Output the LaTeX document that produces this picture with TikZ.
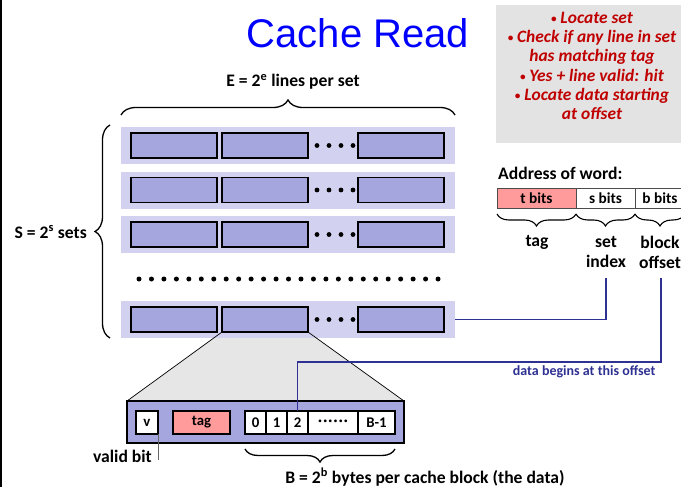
\documentclass[tikz,border=0pt]{standalone}
\usepackage{fontspec}
\setmainfont{Carlito}
\newfontfamily\titlefont{Liberation Sans}
\usetikzlibrary{decorations.pathreplacing,calc}

\definecolor{rowbg}{HTML}{D2D2F0}
\definecolor{linefill}{HTML}{A6A6DF}
\definecolor{tagpink}{HTML}{FF9B9B}
\definecolor{notegray}{HTML}{E3E3E3}
\definecolor{zoomgray}{HTML}{E6E6E6}
\definecolor{navy}{HTML}{2E3192}
\definecolor{notered}{HTML}{C00000}
\definecolor{titleblue}{HTML}{0000FF}

% small bullet for the note list
\newcommand\notebul{\raisebox{1.2pt}{\fontsize{11}{11}\selectfont•}}

\begin{document}
\begin{tikzpicture}[x=1pt,y=-1pt,
  setrow/.style={fill=rowbg, draw=none, minimum width=334pt, minimum height=37pt,
    anchor=north west, inner sep=0pt, outer sep=0pt},
  linebox/.style={fill=linefill, draw=black, line width=1.6pt, minimum width=86pt,
    minimum height=25pt, anchor=north west, inner sep=0pt, outer sep=0pt},
  cell/.style={draw=black, line width=1.3pt, fill=white, minimum height=23pt,
    anchor=north west, inner sep=0pt, outer sep=0pt, font=\bfseries\fontsize{14.8}{16}\selectfont},
  addr/.style={draw=black!70, line width=0.8pt, minimum height=20pt, anchor=north west,
    inner sep=0pt, outer sep=0pt, font=\bfseries\fontsize{15.3}{17}\selectfont},
  lbl/.style={font=\bfseries\fontsize{17.6}{20}\selectfont, inner sep=1pt},
  bracestyle/.style={decorate, decoration={brace, amplitude=#1}, line width=1.3pt},
  bracestyle/.default=13pt,
  conn/.style={draw=navy, line width=1.5pt},
  dot/.style={fill=black}
]
\useasboundingbox (0,0) rectangle (681,487);

% left margin rule
\draw[line width=1.6pt] (0.8,0) -- (0.8,487);

% title
\node[font=\titlefont\fontsize{40}{42}\selectfont, text=titleblue] (title) at (358,33) {Cache Read};

% note box
\node[fill=notegray, minimum width=190pt, minimum height=138pt, anchor=north west,
  inner sep=0pt] (notebox) at (496,5) {};
\node[align=center, text=notered, font=\bfseries\itshape\fontsize{17.4}{19.3}\selectfont]
  (notes) at (592,66) {\notebul\ Locate set\\\notebul\ Check if any line in set\\has matching tag\\
  \notebul\ Yes + line valid: hit\\\notebul\ Locate data starting\\at offset};

% zoom-out wedge behind the rows
\coordinate (wtl) at (222,332);
\coordinate (wtr) at (308,332);
\fill[zoomgray] (wtl) -- (wtr) -- (404,401) -- (127,401) -- cycle;

% sets of lines
\foreach \r/\t in {1/127,2/171.5,3/216,4/301}{
  \node[setrow] (row\r) at (121,\t) {};
  \node[linebox] (a\r) at (131,\t+6) {};
  \node[linebox] (b\r) at (222,\t+6) {};
  \node[linebox] (c\r) at (358,\t+6) {};
  \foreach \k in {0,...,3}
    \fill[dot] ({317+12*\k},{\t+18.5}) circle (2.4pt);
}
% more sets
\foreach \k in {0,...,24}
  \fill[dot] ({139+12.46*\k},279) circle (2.5pt);

% one cache line, enlarged
\node[fill=linefill, draw=black, line width=1.8pt, minimum width=277pt, minimum height=42pt,
  anchor=north west, inner sep=0pt, outer sep=0pt] (cline) at (127,401) {};
\draw[line width=0.7pt] (b4.south west) -- (cline.north west);
\draw[line width=0.7pt] (b4.south east) -- (cline.north east);

\node[cell, minimum width=22pt] (v) at (136,411) {v};
\node[cell, minimum width=57pt, fill=tagpink] (tg) at (173,411) {tag};
\node[cell, minimum width=21pt] (b0) at (245,411) {0};
\node[cell, minimum width=21pt] (b1) at (266,411) {1};
\node[cell, minimum width=21pt] (b2) at (287,411) {2};
\node[cell, minimum width=50pt] (bd) at (308,411) {·\kern1.2pt·\kern1.2pt·\kern1.2pt·\kern1.2pt·\kern1.2pt·};
\node[cell, minimum width=37pt] (bl) at (358,411) {B-1};

% valid bit label
\node[lbl, anchor=east] (vlab) at (153,456) {valid bit};
\coordinate (vend) at (158,460);
\draw[black!60, line width=0.8pt] (v.south east) -- (vend);

% braces and their labels
\draw[bracestyle=15pt] ($(row1.north west)+(0,-12)$) -- ($(row1.north east)+(0,-12)$);
\node[lbl] (elab) at (293,82) {E = 2\textsuperscript{e} lines per set};
\draw[bracestyle=15pt] ($(row4.south west)+(-11,0)$) -- ($(row1.north west)+(-11,-2)$);
\node[lbl, anchor=east] (slab) at (88,232) {S = 2\textsuperscript{s} sets};
\draw[bracestyle=13pt] ($(bl.south east)+(0,15)$) -- ($(b0.south west)+(0,15)$);
\node[lbl] (blab) at (425,477) {B = 2\textsuperscript{b} bytes per cache block (the data)};

% address fields
\node[lbl, anchor=west] (alab) at (497,173) {Address of word:};
\node[addr, minimum width=79pt, fill=tagpink] (tb) at (497,188) {t bits};
\node[addr, minimum width=59pt] (sb) at (576,188) {s bits};
\node[addr, minimum width=50pt] (bb) at (635,188) {b bits};
\draw[bracestyle=12pt, line width=1.1pt] ($(tb.south east)+(0,6)$) -- ($(tb.south west)+(0,6)$);
\draw[bracestyle=12pt, line width=1.1pt] ($(sb.south east)+(0,6)$) -- ($(sb.south west)+(0,6)$);
\draw[bracestyle=12pt, line width=1.1pt] ($(bb.south east)+(0,6)$) -- ($(bb.south west)+(0,6)$);
\node[lbl] (ltag) at (537,242) {tag};
\node[lbl, align=center] (lset) at (606,252) {set\\index};
\node[lbl, align=center] (lblk) at (660,252) {block\\offset};

% set index selects the set, block offset locates the data
\coordinate (setend) at (606,278);
\coordinate (offend) at (661,278);
\coordinate (dline) at (0,362);
\draw[conn] (row4.east) -| (setend);
\draw[conn] (offend) -- (offend |- dline) -| (b2.north);
\node[text=navy, font=\bfseries\fontsize{14}{16}\selectfont, anchor=east] (dlab) at (659,372)
  {data begins at this offset};
\end{tikzpicture}
\end{document}
